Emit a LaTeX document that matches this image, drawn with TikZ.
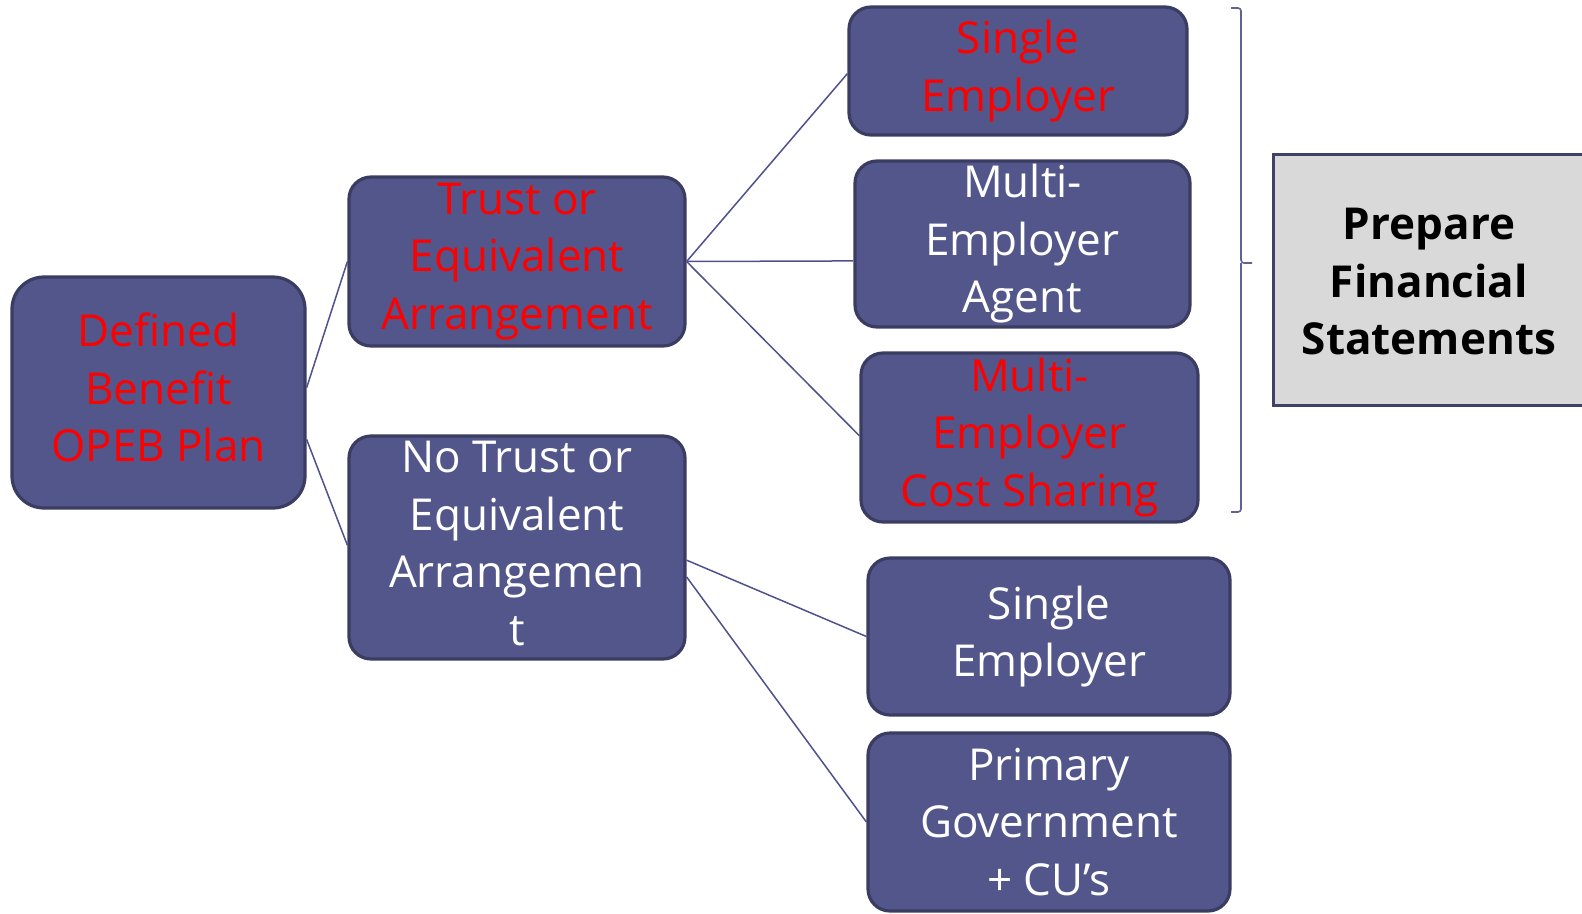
\documentclass[tikz,border=0pt]{standalone}
\usepackage{fontspec}
\setmainfont{Open Sans}
\usetikzlibrary{calc}
\definecolor{boxfill}{RGB}{83,86,138}
\definecolor{boxedge}{RGB}{58,60,98}
\definecolor{linkcol}{RGB}{78,81,140}
\definecolor{greyfill}{RGB}{217,217,217}
\definecolor{greyedge}{RGB}{63,65,105}
\definecolor{txtred}{RGB}{255,0,0}
\begin{document}
\begin{tikzpicture}[x=1pt,y=-1pt,
  box/.style={draw=boxedge, line width=3.2pt, fill=boxfill, rounded corners=22pt,
    inner sep=0pt, align=center, text=white, font=\fontsize{44}{57.5}\selectfont},
  redtext/.style={text=txtred},
  boxtext/.style={inner sep=0pt, align=center, font=\fontsize{44}{57.5}\selectfont},
  link/.style={draw=linkcol, line width=1.5pt},
  brace/.style={draw=linkcol!90, line width=1.6pt, rounded corners=3pt}]
\useasboundingbox (0,0) rectangle (1582,913);
\clip (0,0) rectangle (1582,913);

% level 1
\node[box, rounded corners=32pt, minimum width=293pt, minimum height=231pt]
  (def) at (158.5,392.5) {};
\node[boxtext, text=txtred] (deftext) at ($(def.center)+(0,-5)$) {Defined\\Benefit\\OPEB Plan};

% level 2
\node[box, redtext, minimum width=336pt, minimum height=169pt]
  (trust) at (517,261.5) {Trust or\\Equivalent\\Arrangement};
\node[box, minimum width=336pt, minimum height=223pt]
  (notrust) at (517,547.5) {};
\node[boxtext, text=white] (notrusttext) at ($(notrust.center)+(0,-4)$)
  {No Trust or\\Equivalent\\Arrangemen\\t};

% level 3
\node[box, redtext, minimum width=338pt, minimum height=128pt]
  (se1) at (1018,71) {Single\\Employer};
\node[box, minimum width=335pt, minimum height=166pt]
  (mea) at (1022.5,244) {Multi-\\Employer\\Agent};
\node[box, redtext, minimum width=337pt, minimum height=169pt]
  (mecs) at (1029.5,437.5) {Multi-\\Employer\\Cost Sharing};
\node[box, minimum width=362pt, minimum height=157pt]
  (se2) at (1049,636.5) {Single\\Employer};
\node[box, minimum width=362pt, minimum height=178pt]
  (pg) at (1049,822) {Primary\\Government\\+ CU’s};

% summary box
\node[draw=greyedge, line width=3pt, fill=greyfill, inner sep=0pt,
  minimum width=312pt, minimum height=251pt]
  (prep) at (1429,280) {};
\node[boxtext, font=\fontsize{44}{57.5}\selectfont\bfseries] (preptext)
  at ($(prep.center)+(0,2)$) {Prepare\\Financial\\Statements};

% connectors
\draw[link] ($(def.north east)!0.48!(def.south east)$) -- (trust.west);
\draw[link] ($(def.north east)!0.70!(def.south east)$) -- ($(notrust.north west)!0.49!(notrust.south west)$);
\draw[link] (trust.east) -- ($(se1.north west)!0.52!(se1.south west)$);
\draw[link] (trust.east) -- ($(mea.north west)!0.60!(mea.south west)$);
\draw[link] (trust.east) -- ($(mecs.north west)!0.49!(mecs.south west)$);
\draw[link] ($(notrust.north east)!0.556!(notrust.south east)$) -- (se2.west);
\draw[link] ($(notrust.north east)!0.63!(notrust.south east)$) -- (pg.west);

% brace grouping the trust arrangements
\coordinate (bt) at (1231,8);
\coordinate (bb) at (1231,512);
\coordinate (bm) at (1252,263);
\draw[brace] (bt) -- (1241,8) -- (1241,263) -- (bm);
\draw[brace] (bb) -- (1241,512) -- (1241,263);
\end{tikzpicture}
\end{document}
